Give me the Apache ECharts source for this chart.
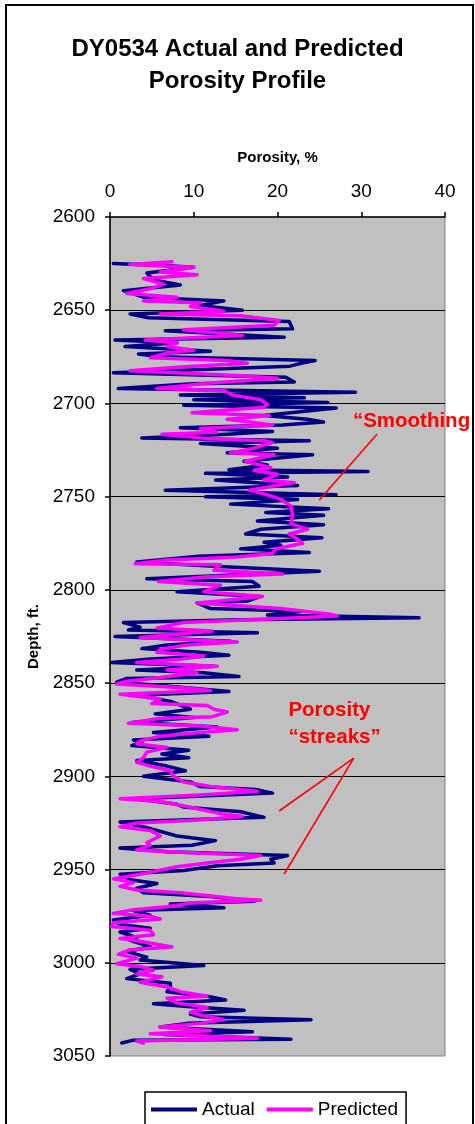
<!DOCTYPE html>
<html>
<head>
<meta charset="utf-8">
<title>DY0534 Actual and Predicted Porosity Profile</title>
<script src="https://cdn.jsdelivr.net/npm/echarts@6/dist/echarts.min.js"></script>
<style>
  html, body { margin: 0; padding: 0; background: #ffffff; }
  #chart { width: 475px; height: 1124px; }
</style>
</head>
<body>
<div id="chart"></div>
<script>
// Measured log: depth (ft) and core porosity (%)
const actualDepth = [
  2625, 2626, 2627, 2630, 2632, 2634.5, 2636.5, 2639.5, 2643, 2645, 2647.5, 2650, 2652, 2654, 2656,
  2660, 2661, 2664.5, 2666, 2667.5, 2669.5, 2672, 2673.5, 2675, 2677, 2678.5, 2680, 2683.5, 2686,
  2688.5, 2689.5, 2692, 2694, 2695.5, 2697, 2698, 2699.5, 2701, 2702.5, 2706.5, 2708.5, 2710, 2711.5,
  2713, 2715, 2716.5, 2718.5, 2720, 2721.5, 2724, 2726.5, 2727.5, 2731, 2733, 2735.5, 2736.5, 2737.5,
  2739.5, 2741, 2744, 2746.5, 2749, 2750, 2751.5, 2754, 2756.5, 2758.5, 2760, 2763, 2765, 2767.5,
  2770, 2772, 2774.5, 2776, 2778, 2780, 2782, 2785, 2787.5, 2790, 2794, 2795.5, 2798, 2801, 2803.5,
  2806, 2807, 2810, 2811.5, 2813.5, 2815, 2816, 2817.5, 2820, 2821.5, 2823, 2825, 2827.5, 2829.5,
  2831.5, 2833.5, 2835, 2837, 2839, 2841, 2843, 2844.5, 2846.5, 2847.5, 2849.5, 2851.5, 2854.5,
  2856.5, 2860, 2864, 2866.5, 2868.5, 2871, 2873.5, 2876.5, 2878.5, 2880.5, 2882, 2883.5, 2886,
  2888, 2890, 2891.5, 2894.5, 2897, 2900, 2903, 2905.5, 2907, 2909, 2912, 2915, 2916.5, 2919, 2922,
  2924.5, 2927.5, 2932, 2934.5, 2937, 2938.5, 2940.5, 2942.5, 2944.5, 2946.5, 2948, 2950.5, 2952.5,
  2955.5, 2957.5, 2960, 2962.5, 2964.5, 2967, 2968.5, 2970.5, 2972, 2974.5, 2977, 2979.5, 2981.5,
  2983.5, 2986.5, 2988, 2991.5, 2994, 2997, 2998.5, 3001.5, 3003.5, 3006, 3008.5, 3011, 3013,
  3015.5, 3018, 3020, 3022, 3023.5, 3025.5, 3027.5, 3029, 3030.5, 3032.5, 3034.5, 3037, 3038.5,
  3041, 3041.5, 3043
];
const actualPorosity = [
  0.4, 6.4, 10.0, 4.4, 4.8, 6.0, 8.4, 1.6, 4.0, 13.6, 10.8, 15.8, 2.4, 4.6, 21.4,
  21.8, 6.6, 20.8, 0.6, 8.0, 1.8, 12.0, 3.4, 6.0, 24.5, 22.8, 21.5, 0.4, 21.0,
  22.0, 9.8, 1.0, 29.3, 8.4, 23.2, 10.0, 26.0, 8.8, 27.0, 18.4, 23.6, 25.5, 20.6,
  8.4, 19.4, 14.0, 3.8, 23.8, 10.8, 20.0, 14.0, 24.2, 16.0, 18.8, 14.2, 30.8, 11.4,
  21.2, 12.6, 22.4, 6.6, 27.0, 11.4, 22.4, 14.4, 26.1, 18.6, 25.5, 17.6, 25.5, 18.0,
  16.2, 25.3, 18.4, 20.4, 15.6, 23.8, 10.6, 3.2, 13.0, 25.0, 4.4, 17.0, 17.8, 8.0, 18.0,
  16.4, 10.4, 12.0, 22.8, 18.8, 36.9, 15.6, 1.6, 3.6, 2.2, 17.6, 0.6, 14.4, 6.8,
  3.8, 10.8, 14.2, 4.8, 0.2, 12.4, 3.2, 11.2, 15.4, 2.0, 0.8, 6.8, 14.2,
  3.2, 7.4, 9.6, 5.4, 10.0, 2.8, 12.8, 5.2, 11.8, 2.8, 3.8, 2.6, 9.4,
  6.2, 9.4, 3.2, 6.8, 9.0, 4.0, 9.6, 10.8, 17.4, 19.4, 3.2, 8.0, 8.8, 15.6, 18.4,
  1.2, 4.4, 8.0, 12.6, 9.8, 1.2, 6.8, 21.2, 19.2, 19.6, 12.8, 8.8, 1.2,
  2.4, 5.6, 3.2, 4.0, 12.0, 17.2, 7.2, 13.6, 2.8, 4.8, 0.4, 1.2, 4.8,
  1.2, 3.2, 2.4, 4.8, 2.0, 4.4, 3.6, 11.2, 2.4, 3.6, 2.0, 7.2, 7.2,
  6.8, 11.6, 13.8, 5.2, 9.2, 16.0, 9.6, 10.8, 24.0, 9.2, 6.0, 17.0, 6.4,
  21.6, 2.8, 1.4
];

// Model output: depth (ft) and predicted porosity (%)
const predictedDepth = [
  2624, 2625.5, 2627, 2629.5, 2631, 2633, 2636, 2638.5, 2641, 2643, 2645, 2646, 2648, 2650.5, 2652,
  2653, 2655.5, 2658, 2660.5, 2663.5, 2666, 2667.5, 2669.5, 2671.5, 2673, 2675.5, 2677, 2678.5,
  2680.5, 2682.5, 2685, 2686.5, 2689.5, 2692, 2693, 2695.5, 2698, 2700.5, 2702, 2705, 2706.5,
  2708.5, 2711.5, 2713.5, 2715.5, 2716.5, 2719, 2720, 2721, 2724, 2726.5, 2727.5, 2731, 2734.5,
  2736, 2738, 2741, 2742.5, 2746.5, 2749, 2751.5, 2755, 2760, 2764.5, 2767.5, 2770, 2773.5, 2775,
  2778, 2780.5, 2782.5, 2784, 2786, 2786.5, 2789.5, 2791.5, 2793, 2795.5, 2797.5, 2801, 2803.5,
  2805.5, 2807, 2810, 2811.5, 2813, 2814, 2816, 2817.5, 2820.5, 2822, 2824.5, 2825.5, 2828, 2829.5,
  2832, 2833.5, 2835.5, 2837, 2839, 2841, 2843, 2844.5, 2847, 2849, 2850.5, 2852.5, 2854, 2856,
  2858.5, 2861, 2862, 2864, 2865.5, 2868, 2869, 2871.5, 2873, 2875, 2876.5, 2878.5, 2881, 2882.5,
  2884.5, 2887, 2890, 2892.5, 2894.5, 2897, 2900, 2903, 2905.5, 2908, 2910, 2912, 2913.5, 2915.5,
  2918.5, 2920, 2921.5, 2923.5, 2925, 2927, 2929, 2932, 2935.5, 2937, 2939.5, 2941, 2942.5, 2944.5,
  2946.5, 2948.5, 2951, 2952.5, 2955, 2957, 2959, 2961, 2962.5, 2965.5, 2966.5, 2968, 2970, 2971.5,
  2973.5, 2975, 2976.5, 2978.5, 2980.5, 2982.5, 2985, 2987, 2988.5, 2991.5, 2993, 2995.5, 2997.5,
  3000.5, 3002, 3004, 3006, 3007.5, 3010.5, 3013, 3015.5, 3018, 3019, 3021.5, 3024, 3026.5, 3028,
  3030.5, 3032.5, 3034.5, 3036.5, 3038, 3040.5, 3042, 3043
];
const predictedPorosity = [
  7.4, 2.4, 10.0, 6.0, 10.4, 4.0, 6.4, 4.8, 2.0, 8.0, 4.0, 10.8, 9.6, 13.6, 6.0,
  15.6, 20.2, 19.6, 8.8, 15.8, 4.2, 8.0, 6.8, 10.0, 6.8, 4.8, 14.0, 16.4,
  8.4, 2.4, 15.2, 20.0, 10.8, 5.6, 13.6, 14.6, 18.0, 18.8, 18.4, 9.8, 19.0,
  14.0, 19.4, 10.8, 12.8, 6.2, 12.0, 18.4, 19.4, 17.2, 14.4, 19.6, 16.2, 19.2,
  17.2, 20.0, 18.4, 22.0, 16.6, 18.8, 20.4, 21.6, 21.8, 21.6, 23.6, 21.4, 22.6, 23.0,
  19.8, 19.4, 14.8, 6.8, 3.0, 13.2, 12.4, 20.6, 11.6, 5.8, 13.2, 11.2, 18.2,
  14.0, 10.4, 20.4, 23.2, 26.3, 27.1, 16.8, 8.8, 5.6, 12.2, 6.4, 3.6, 15.2, 9.2,
  6.0, 5.6, 11.2, 8.8, 3.2, 12.8, 6.8, 10.4, 6.0, 2.0, 0.8, 8.8, 12.0, 1.2,
  6.0, 5.0, 11.6, 12.4, 14.0, 12.2, 5.8, 2.2, 10.8, 15.2, 10.8, 6.0, 3.6, 3.2,
  6.8, 4.4, 4.0, 3.2, 4.8, 7.2, 7.6, 8.8, 12.0, 17.6, 10.8, 1.2, 6.0, 8.4,
  11.6, 13.2, 15.8, 10.0, 3.2, 1.2, 4.8, 6.0, 4.4, 4.8, 3.2, 9.6, 18.0, 15.6,
  11.6, 8.0, 5.2, 3.6, 0.4, 2.8, 1.2, 3.2, 8.4, 14.8, 18.0, 9.6, 6.8, 2.8,
  0.4, 4.8, 6.0, 0.4, 0.2, 4.8, 5.2, 1.2, 3.6, 7.4, 2.4, 1.0, 3.2,
  0.8, 3.6, 5.2, 3.2, 6.2, 3.6, 6.8, 8.4, 11.6, 6.8, 8.0, 11.6, 9.6, 10.8,
  13.6, 10.8, 6.0, 12.0, 4.8, 17.6, 3.2, 4.0
];

// Axis ticks
const porosityTicks = [0, 10, 20, 30, 40];
const depthTicks = [2600, 2650, 2700, 2750, 2800, 2850, 2900, 2950, 3000, 3050];

// Callout text and pointer lines, anchored in (porosity, depth) units
const smoothingLabel = { text: '\u201cSmoothing', at: [29.0, 2709.4] };
const smoothingPointer = [[31.9, 2716.4], [25.0, 2751.8]];
const streaksLabel = { text: 'Porosity\n\u201cstreaks\u201d', at: [21.3, 2871.6] };
const streaksPointers = [
  [[29.1, 2890.2], [20.2, 2918.6]],
  [[29.1, 2890.2], [20.8, 2952.4]]
];

const FONT = '"Liberation Sans", Arial, Helvetica, sans-serif';
const zip = (ys, xs) => xs.map((x, i) => [x, ys[i]]);

const chart = echarts.init(document.getElementById('chart'), null, { renderer: 'canvas' });

const option = {
  animation: false,
  backgroundColor: '#ffffff',
  title: {
    text: 'DY0534 Actual and Predicted\nPorosity Profile',
    left: 'center',
    top: 28,
    textStyle: { fontFamily: FONT, fontSize: 24, fontWeight: 'bold', color: '#000', lineHeight: 32 }
  },
  grid: {
    left: 110, right: 30, top: 217, bottom: 68,
    show: true,
    backgroundColor: '#C0C0C0',
    borderColor: '#808080',
    borderWidth: 1
  },
  xAxis: {
    type: 'value',
    position: 'top',
    min: porosityTicks[0],
    max: porosityTicks[porosityTicks.length - 1],
    interval: porosityTicks[1] - porosityTicks[0],
    name: 'Porosity, %',
    nameLocation: 'middle',
    nameGap: 52,
    nameTextStyle: { fontFamily: FONT, fontSize: 15, fontWeight: 'bold', color: '#000' },
    axisLine: { show: true, lineStyle: { color: '#000', width: 1.5 } },
    axisTick: { show: true, inside: false, length: 5, lineStyle: { color: '#000', width: 1.5 } },
    axisLabel: { margin: 16, fontFamily: FONT, fontSize: 19, color: '#000' },
    splitLine: { show: false }
  },
  yAxis: {
    type: 'value',
    inverse: true,
    min: depthTicks[0],
    max: depthTicks[depthTicks.length - 1],
    interval: depthTicks[1] - depthTicks[0],
    name: 'Depth, ft.',
    nameLocation: 'middle',
    nameRotate: 90,
    nameGap: 62,
    nameTextStyle: { fontFamily: FONT, fontSize: 15, fontWeight: 'bold', color: '#000' },
    axisLine: { show: true, lineStyle: { color: '#000', width: 1.5 } },
    axisTick: { show: true, inside: false, length: 5, lineStyle: { color: '#000', width: 1.5 } },
    axisLabel: {
      margin: 15, fontFamily: FONT, fontSize: 19, color: '#000',
      formatter: (v) => String(v)
    },
    splitLine: { show: true, showMinLine: false, showMaxLine: false, lineStyle: { color: '#000', width: 1 } }
  },
  legend: {
    left: 145,
    top: 1092,
    orient: 'horizontal',
    padding: [8, 8, 8, 6],
    itemGap: 12,
    itemWidth: 46,
    itemHeight: 4,
    borderColor: '#000',
    borderWidth: 1.5,
    backgroundColor: '#fff',
    textStyle: { fontFamily: FONT, fontSize: 19, color: '#000' },
    data: [
      { name: 'Actual', icon: 'rect' },
      { name: 'Predicted', icon: 'rect' }
    ]
  },
  series: [
    {
      name: 'Actual',
      type: 'line',
      data: zip(actualDepth, actualPorosity),
      showSymbol: false,
      symbol: 'none',
      color: '#000080',
      lineStyle: { color: '#000080', width: 3.5, join: 'round', cap: 'round' },
      z: 2
    },
    {
      name: 'Predicted',
      type: 'line',
      data: zip(predictedDepth, predictedPorosity),
      showSymbol: false,
      symbol: 'none',
      color: '#FF00FF',
      lineStyle: { color: '#FF00FF', width: 3.5, join: 'round', cap: 'round' },
      z: 3
    }
  ]
};

chart.setOption(option);

// Callouts are placed through the grid's own coordinate conversion
function px(pt) { return chart.convertToPixel({ gridIndex: 0 }, pt); }
function pointerLine(seg) {
  const a = px(seg[0]);
  const b = px(seg[1]);
  return {
    type: 'line',
    shape: { x1: a[0], y1: a[1], x2: b[0], y2: b[1] },
    style: { stroke: '#FF0000', lineWidth: 1.6 },
    z: 10
  };
}
const sPos = px(smoothingLabel.at);
const tPos = px(streaksLabel.at);

chart.setOption({
  graphic: [
    {
      type: 'rect',
      shape: { x: 6, y: 5, width: 467, height: 1200 },
      style: { fill: null, stroke: '#000', lineWidth: 2 },
      z: 20, silent: true
    },
    {
      type: 'text',
      x: sPos[0], y: sPos[1],
      style: {
        text: smoothingLabel.text, fill: '#FF0000',
        font: 'bold 20.5px ' + FONT, textAlign: 'left', textVerticalAlign: 'middle'
      },
      z: 10
    },
    pointerLine(smoothingPointer),
    {
      type: 'text',
      x: tPos[0], y: tPos[1],
      style: {
        text: streaksLabel.text, fill: '#FF0000',
        font: 'bold 20.5px ' + FONT, lineHeight: 27,
        textAlign: 'left', textVerticalAlign: 'middle'
      },
      z: 10
    },
    pointerLine(streaksPointers[0]),
    pointerLine(streaksPointers[1])
  ]
});
</script>
</body>
</html>
